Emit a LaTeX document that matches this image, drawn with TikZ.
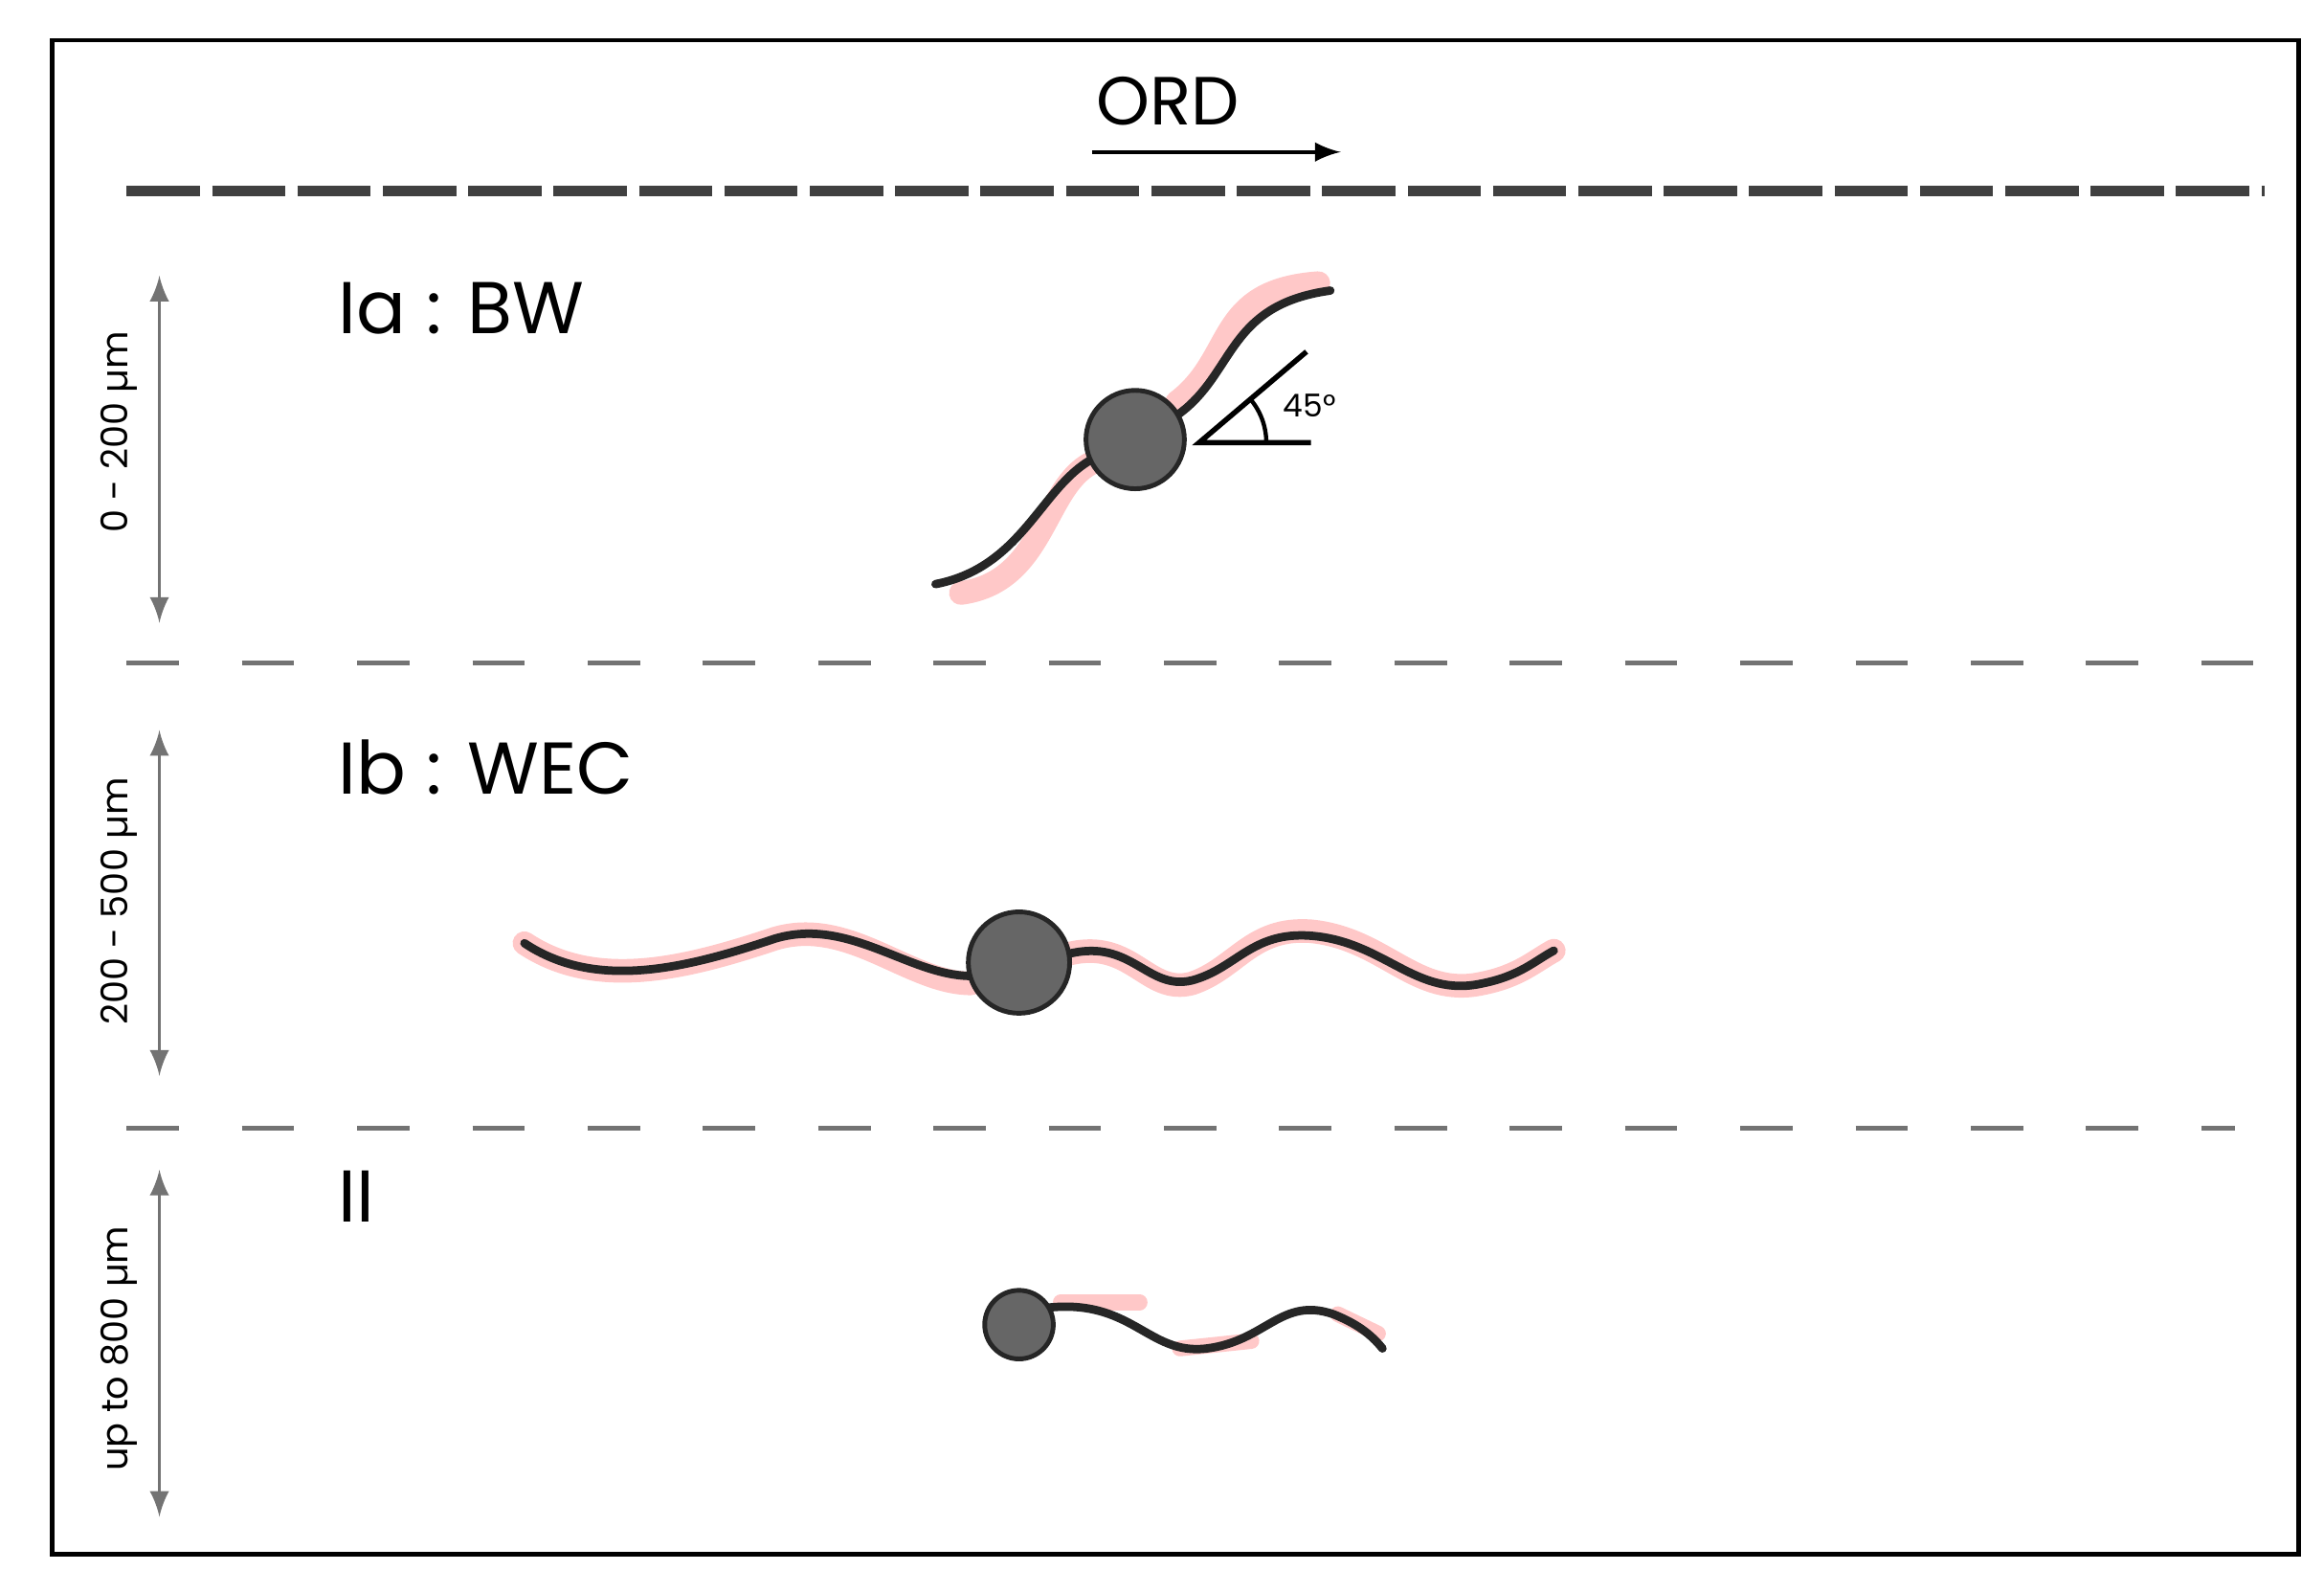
\documentclass[tikz,border=0pt]{standalone}
\usepackage{fontspec}
\setmainfont{Poppins}
\begin{document}
\begin{tikzpicture}[x=0.01cm,y=-0.01cm,
  tail/.style={line width=1.6pt,draw=black!85,line cap=round},
  band/.style={line width=4.5pt,draw=pink!70!red!45,line cap=round},
  head/.style={fill=black!60,draw=black!85,line width=0.9pt},
  sep/.style={draw=black!55,line width=0.9pt,dash pattern=on 10pt off 12pt},
  rangearrow/.style={<->,draw=black!55,line width=0.7pt,>=latex},
  ttl/.style={font=\fontsize{14}{17}\selectfont,anchor=west},
  rl/.style={font=\fontsize{7}{9}\selectfont,rotate=90}]
\useasboundingbox (0,0) rectangle (1560,1069);
\draw[line width=0.8pt] (35,27) rectangle (1543,1043);
\node[font=\fontsize{13}{16}\selectfont] (ord) at (784,68) {ORD};
\coordinate (oa) at (733,102); \coordinate (ob) at (900,102);
\draw[->,line width=0.7pt,>=latex] (oa) -- (ob);
\draw[draw=black!75,line width=2pt,dash pattern=on 14pt off 2.3pt] (85,128) -- (1520,128);
\draw[sep] (85,445) -- (1520,445);
\draw[sep] (85,757) -- (1500,757);
\draw[rangearrow] (107,185) -- (107,418);
\draw[rangearrow] (107,490) -- (107,722);
\draw[rangearrow] (107,785) -- (107,1018);
\node[rl] (r1) at (80,290) {0 - 200 µm};
\node[rl] (r2) at (80,605) {200 - 500 µm};
\node[rl] (r3) at (80,905) {up to 800 µm};
\node[ttl] (t1) at (215,207) {Ia : BW};
\node[ttl] (t2) at (215,515) {Ib : WEC};
\node[ttl] (t3) at (215,803) {II};
% Ia
\draw[band] (645,398) .. controls (705,390) and (700,318) .. (740,308);
\draw[band] (790,270) .. controls (830,240) and (815,195) .. (885,190);
\draw[tail] (628,392) .. controls (690,380) and (700,320) .. (740,305);
\draw[tail] (785,282) .. controls (830,255) and (820,205) .. (893,195);
\node[head,circle,inner sep=0pt,minimum size=0.66cm] (h1) at (762,295) {};
\coordinate (av) at (805,297); \coordinate (ah) at (880,297); \coordinate (ad) at (877,236);
\draw[line width=1pt] (ah) -- (av) -- (ad);
\draw[line width=0.8pt] (850,297) arc[start angle=0,end angle=-40,radius=45];
\node[font=\fontsize{6}{7}\selectfont] (a45) at (879,272) {45°};
% Ib
\draw[band] (352,633) .. controls (400,665) and (460,650) .. (520,630) .. controls (570,615) and (610,660) .. (652,660);
\draw[band] (718,640) .. controls (760,630) and (770,668) .. (800,660) .. controls (830,650) and (840,622) .. (880,625) .. controls (930,630) and (950,670) .. (995,660) .. controls (1020,655) and (1030,645) .. (1043,638);
\draw[tail] (352,633) .. controls (400,665) and (460,650) .. (520,630) .. controls (570,615) and (610,655) .. (652,655);
\draw[tail] (718,640) .. controls (760,630) and (770,665) .. (800,658) .. controls (830,650) and (840,625) .. (880,628) .. controls (930,632) and (950,670) .. (995,660) .. controls (1020,655) and (1030,645) .. (1043,638);
\node[head,circle,inner sep=0pt,minimum size=0.68cm] (h2) at (684,646) {};
% II
\draw[band,line width=3pt] (712,874) -- (765,874);
\draw[band,line width=3pt] (792,905) -- (840,900);
\draw[band,line width=3pt] (898,882) -- (925,895);
\draw[tail] (700,878) .. controls (760,870) and (770,910) .. (810,905) .. controls (850,900) and (860,870) .. (895,882) .. controls (910,888) and (920,895) .. (928,905);
\node[head,circle,inner sep=0pt,minimum size=0.46cm] (h3) at (684,889) {};
\end{tikzpicture}
\end{document}
